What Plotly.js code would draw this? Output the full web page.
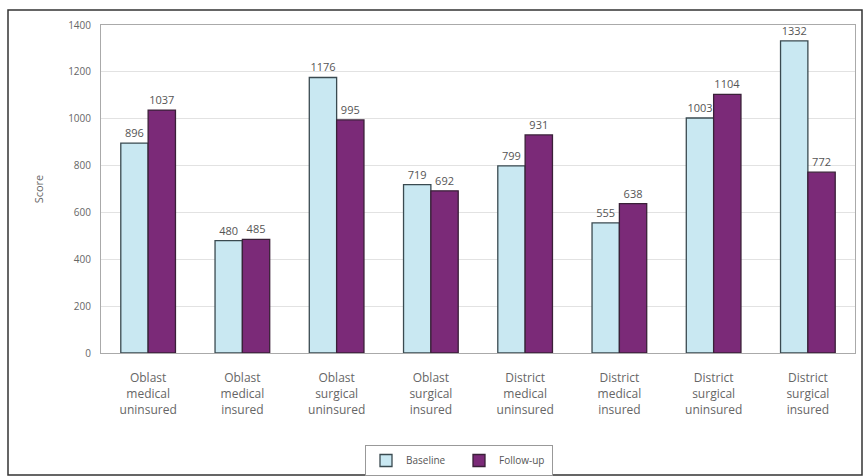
<!DOCTYPE html>
<html>
<head>
<meta charset="utf-8">
<script src="https://cdn.plot.ly/plotly-3.0.1.min.js"></script>
<style>html,body{margin:0;padding:0;background:#fff;}#chart{width:863px;height:476px;}</style>
</head>
<body>
<div id="chart"></div>
<script>
const categories = [
  "Oblast<br>medical<br>uninsured",
  "Oblast<br>medical<br>insured",
  "Oblast<br>surgical<br>uninsured",
  "Oblast<br>surgical<br>insured",
  "District<br>medical<br>uninsured",
  "District<br>medical<br>insured",
  "District<br>surgical<br>uninsured",
  "District<br>surgical<br>insured"
];
const baseline = [896, 480, 1176, 719, 799, 555, 1003, 1332];
const followUp = [1037, 485, 995, 692, 931, 638, 1104, 772];
const yTicks = [0, 200, 400, 600, 800, 1000, 1200, 1400];

const W = 863, H = 476;
const L = 101, R = 8, T = 25, B = 123;
const pw = W - L - R, ph = H - T - B;
const px = v => (v - L) / pw;
const py = v => (H - B - v) / ph;

const textFont = {family: "Open Sans, DejaVu Sans, sans-serif", size: 11, color: "#555"};

const traces = [
  {
    type: "bar", name: "Baseline", x: categories, y: baseline,
    text: baseline.map(String), textposition: "outside", cliponaxis: false,
    textfont: textFont,
    marker: {color: "#c9e8f2", line: {color: "#3a4a50", width: 1.3}}
  },
  {
    type: "bar", name: "Follow-up", x: categories, y: followUp,
    text: followUp.map(String), textposition: "outside", cliponaxis: false,
    textfont: textFont,
    marker: {color: "#7b2a78", line: {color: "#3a2038", width: 1.3}}
  }
];

const layout = {
  width: W, height: H,
  margin: {l: L, r: R, t: T, b: B, pad: 0},
  paper_bgcolor: "#fff", plot_bgcolor: "#fff",
  barmode: "group", bargap: 0.42, bargroupgap: 0,
  font: {family: "Open Sans, DejaVu Sans, sans-serif", color: "#666", size: 10},
  xaxis: {
    type: "category", showgrid: false, showline: true, linecolor: "#aaa", linewidth: 1,
    mirror: true, ticks: "", tickfont: {size: 12, color: "#666"}, automargin: false,
    ticklabelstandoff: 14
  },
  yaxis: {
    range: [0, 1400], tickvals: yTicks, ticktext: yTicks.map(String),
    showgrid: true, gridcolor: "#e2e2e2", gridwidth: 1,
    showline: true, linecolor: "#aaa", mirror: true, zeroline: true, zerolinecolor: "#999",
    ticks: "", tickfont: {size: 10, color: "#666"}, automargin: false,
    ticklabelstandoff: 7,
    title: {text: "Score", font: {size: 11, color: "#666"}, standoff: 22}
  },
  showlegend: true,
  legend: {
    orientation: "h", xref: "container", yref: "container",
    x: 459 / W, xanchor: "center", y: 1 - 445 / H, yanchor: "top",
    bordercolor: "#999", borderwidth: 1, bgcolor: "#fff",
    font: {size: 10, color: "#555"}, itemwidth: 30, entrywidth: 48,
    traceorder: "normal"
  },
  shapes: [
    {type: "rect", xref: "paper", yref: "paper",
     x0: px(8), x1: px(862), y0: py(475), y1: py(10),
     line: {color: "#333", width: 1.5}, fillcolor: "rgba(0,0,0,0)", layer: "below"}
  ]
};

Plotly.newPlot("chart", traces, layout, {displayModeBar: false, staticPlot: true});
</script>
</body>
</html>
